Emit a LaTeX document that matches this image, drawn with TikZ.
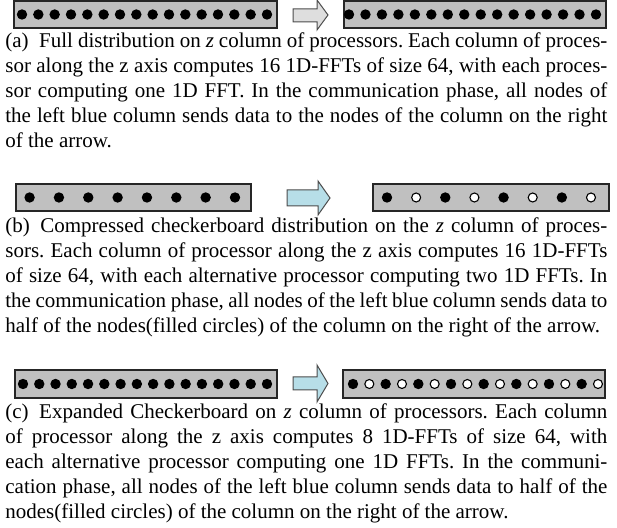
\documentclass[tikz,border=0pt]{standalone}
\usepackage{fontspec}
\setmainfont{Liberation Serif}
\definecolor{boxgray}{RGB}{192,192,192}
\definecolor{arrowgray}{RGB}{222,222,222}
\definecolor{arrowblue}{RGB}{183,222,232}
\tikzset{
  colbox/.style={draw=black!85, line width=0.6pt, fill=boxgray},
  pfull/.style={circle, fill=black, inner sep=0pt, minimum size=5.2pt},
  popen/.style={circle, draw=black, fill=white, line width=0.55pt, inner sep=0pt, minimum size=4.5pt},
  grayarrow/.style={draw=black!70, line width=0.5pt, fill=arrowgray},
  bluearrow/.style={draw=black!70, line width=0.5pt, fill=arrowblue},
  captext/.style={anchor=base west, inner sep=0pt}
}
% justified caption lines and the closing line of a caption
\newcommand{\justline}[1]{\makebox[\linewidth][s]{#1}\\}
\newcommand{\lastline}[1]{\makebox[\linewidth][l]{#1}}
\newcommand{\capfont}{\fontsize{10.5pt}{12.5pt}\selectfont\frenchspacing}
\begin{document}
\begin{tikzpicture}[x=0.5pt, y=-0.5pt]
\useasboundingbox (0,0) rectangle (617,528);

% ---------- (a) full distribution ----------
\draw[colbox] (14,1) rectangle (277,28);
\foreach \i in {0,...,15} \node[pfull] (aL\i) at ({22+\i*245/15},14.5) {};
\draw[grayarrow] (293,9) -- (317,9) -- (317,0) -- (328,15) -- (317,30) -- (317,22) -- (293,22) -- cycle;
\draw[colbox] (344,1) rectangle (606,28);
\foreach \i in {0,...,15} \node[pfull] (aR\i) at ({349+\i*247/15},14.5) {};
\node[captext] (capA) at (5,48) {\parbox[t]{301pt}{\capfont
\justline{(a)\enspace Full distribution on \textit{z} column of processors. Each column of proces-}
\justline{sor along the z axis computes 16 1D-FFTs of size 64, with each proces-}
\justline{sor computing one 1D FFT. In the communication phase, all nodes of}
\justline{the left blue column sends data to the nodes of the column on the right}
\lastline{of the arrow.}}};

% ---------- (b) compressed checkerboard ----------
\draw[colbox] (16,184) rectangle (251,211);
\foreach \i in {0,...,7} \node[pfull] (bL\i) at ({29.6+\i*205.4/7},197.5) {};
\draw[bluearrow] (287,190) -- (318,190) -- (318,181) -- (330,198) -- (318,215) -- (318,206) -- (287,206) -- cycle;
\draw[colbox] (373,184) rectangle (609,211);
\foreach \i in {0,2,4,6} \node[pfull] (bR\i) at ({387+\i*204/7},197.5) {};
\foreach \i in {1,3,5,7} \node[popen] (bR\i) at ({387+\i*204/7},197.5) {};
\node[captext] (capB) at (5,233) {\parbox[t]{301pt}{\capfont
\justline{(b)\enspace Compressed checkerboard distribution on the \textit{z} column of proces-}
\justline{sors. Each column of processor along the z axis computes 16 1D-FFTs}
\justline{of size 64, with each alternative processor computing two 1D FFTs. In}
\justline{the communication phase, all nodes of the left blue column sends data to}
\lastline{half of the nodes(filled circles) of the column on the right of the arrow.}}};

% ---------- (c) expanded checkerboard ----------
\draw[colbox] (15,370) rectangle (277,398);
\foreach \i in {0,...,15} \node[pfull] (cL\i) at ({23+\i*244/15},384) {};
\draw[bluearrow] (293,377) -- (317,377) -- (317,365) -- (328,383.5) -- (317,402) -- (317,390) -- (293,390) -- cycle;
\draw[colbox] (343,370) rectangle (605,398);
\foreach \i in {0,2,...,14} \node[pfull] (cR\i) at ({353+\i*245/15},384) {};
\foreach \i in {1,3,...,15} \node[popen] (cR\i) at ({353+\i*245/15},384) {};
\node[captext] (capC) at (5,419) {\parbox[t]{301pt}{\capfont
\justline{(c)\enspace Expanded Checkerboard on \textit{z} column of processors. Each column}
\justline{of processor along the z axis computes 8 1D-FFTs of size 64, with}
\justline{each alternative processor computing one 1D FFTs. In the communi-}
\justline{cation phase, all nodes of the left blue column sends data to half of the}
\lastline{nodes(filled circles) of the column on the right of the arrow.}}};
\end{tikzpicture}
\end{document}
